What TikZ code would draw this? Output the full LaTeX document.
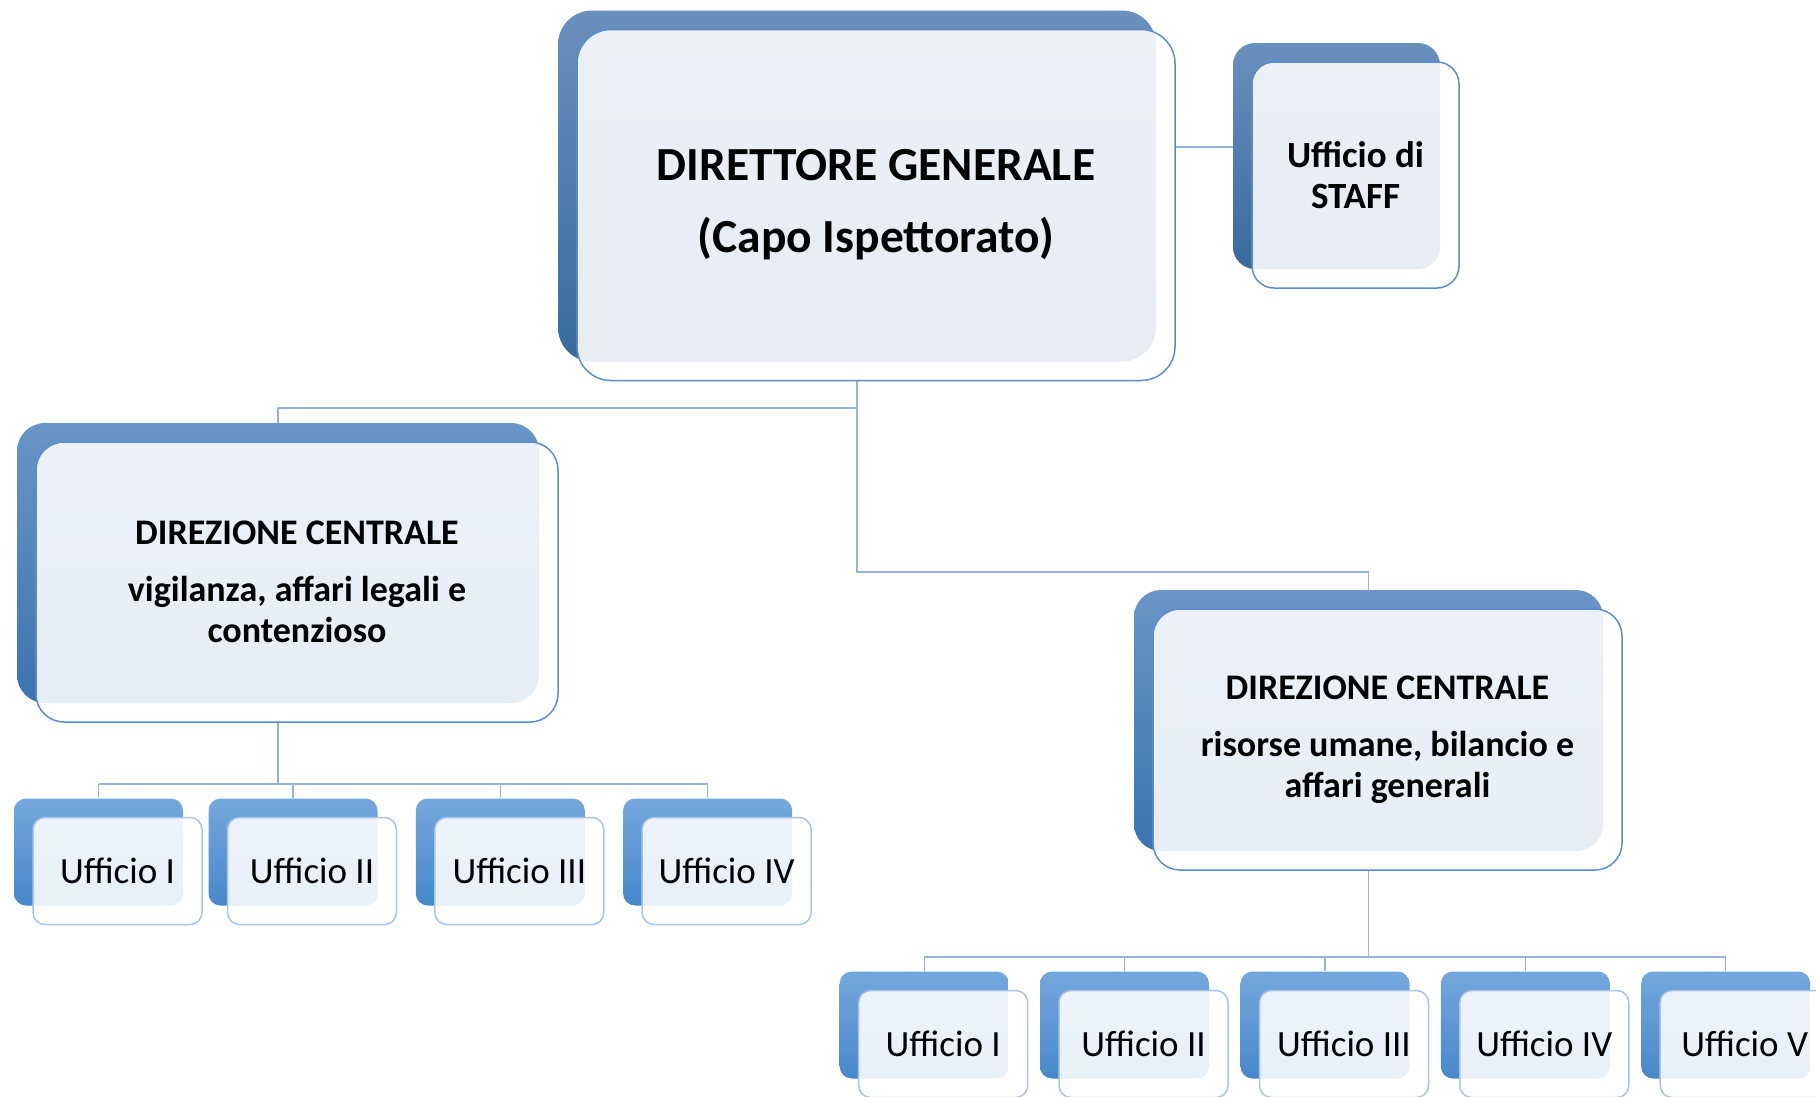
\documentclass[tikz,border=0pt]{standalone}
\usepackage{fontspec}
\setmainfont{Carlito}
\usetikzlibrary{backgrounds}
\definecolor{bigtop}{HTML}{6A90BD}
\definecolor{bigbot}{HTML}{386A9F}
\definecolor{dctop}{HTML}{6A95C6}
\definecolor{dcbot}{HTML}{3B74B1}
\definecolor{smtop}{HTML}{75A7DD}
\definecolor{smbot}{HTML}{4688CA}
\definecolor{bigline}{HTML}{5B8DCB}
\definecolor{smline}{HTML}{A8C4E8}
\definecolor{connc}{HTML}{93B4E0}
\tikzset{
  backbig/.style={rectangle, inner sep=0pt, draw=none, top color=bigtop, bottom color=bigbot},
  frontbig/.style={rectangle, inner sep=0pt, draw=bigline, line width=1.5pt, fill=white, fill opacity=0.88, text opacity=1, align=center},
  backdc/.style={rectangle, inner sep=0pt, draw=none, top color=dctop, bottom color=dcbot},
  frontdc/.style={frontbig},
  backsm/.style={rectangle, inner sep=0pt, draw=none, top color=smtop, bottom color=smbot},
  frontsm/.style={rectangle, inner sep=0pt, draw=smline, line width=1.5pt, fill=white, fill opacity=0.88, text opacity=1, align=center},
  conn/.style={draw=connc, line width=1.4pt},
}
\newcommand\orgbox[9]{%
  \node[back#7, rounded corners=#6pt, minimum width=#4pt, minimum height=#5pt] (#1-b) at (#2,#3) {};
  \node[front#7, rounded corners=#6pt, minimum width=#4pt, minimum height=#5pt, font=#8] (#1) at ({#2+19},{#3+19}) {#9};
}
\newcommand\smallfont{\fontsize{37}{44}\selectfont}
\newcommand\dcfont{\fontsize{36}{41}\selectfont\bfseries}
\begin{document}
\begin{tikzpicture}[x=1pt,y=-1pt]
\useasboundingbox (0,0) rectangle (1816,1096);
\clip (0,0) rectangle (1816,1096);
% main boxes
\orgbox{dg}{857}{186}{598}{351}{34}{big}{\fontsize{47.5}{56}\selectfont\bfseries}{DIRETTORE GENERALE\\[16pt](Capo Ispettorato)}
\orgbox{staff}{1336.5}{156}{207}{226}{22}{big}{\fontsize{37}{41}\selectfont\bfseries}{Ufficio di\\STAFF}
\orgbox{dcl}{278}{563}{522}{280}{28}{dc}{\dcfont}{DIREZIONE CENTRALE\\[16pt]vigilanza, affari legali e\\contenzioso}
\orgbox{dcr}{1368.5}{720.5}{469}{261}{27}{dc}{\dcfont}{DIREZIONE CENTRALE\\[16pt]risorse umane, bilancio e\\affari generali}
% left offices
\orgbox{l1}{98.5}{852}{169}{107}{12}{sm}{\smallfont}{Ufficio I}
\orgbox{l2}{293}{852}{169}{107}{12}{sm}{\smallfont}{Ufficio II}
\orgbox{l3}{500.3}{852}{169}{107}{12}{sm}{\smallfont}{Ufficio III}
\orgbox{l4}{707.6}{852}{169}{107}{12}{sm}{\smallfont}{Ufficio IV}
% right offices
\orgbox{r1}{924.2}{1025}{169}{107}{12}{sm}{\smallfont}{Ufficio I}
\orgbox{r2}{1124.5}{1025}{169}{107}{12}{sm}{\smallfont}{Ufficio II}
\orgbox{r3}{1325}{1025}{169}{107}{12}{sm}{\smallfont}{Ufficio III}
\orgbox{r4}{1525.3}{1025}{169}{107}{12}{sm}{\smallfont}{Ufficio IV}
\orgbox{r5}{1725.7}{1025}{169}{107}{12}{sm}{\smallfont}{Ufficio V}
% connectors
\coordinate (hs) at (0,147);
\coordinate (jL) at (0,408);
\coordinate (jR) at (0,572);
\coordinate (jl2) at (0,784);
\coordinate (jr2) at (0,957);
\begin{pgfonlayer}{background}
\draw[conn] (dg.east |- hs) -- (staff-b.west |- hs);
\draw[conn] (dg-b |- dg.south) -- (dg-b |- jL) -| (dcl-b.north);
\draw[conn] (dg-b |- jL) -- (dg-b |- jR) -| (dcr-b.north);
\draw[conn] (dcl-b |- dcl.south) -- (dcl-b |- jl2);
\draw[conn] (l1-b |- jl2) -- (l4-b |- jl2);
\foreach \n in {l1,l2,l3,l4} {\draw[conn] (\n-b |- jl2) -- (\n-b.north);}
\draw[conn] (dcr-b |- dcr.south) -- (dcr-b |- jr2);
\draw[conn] (r1-b |- jr2) -- (r5-b |- jr2);
\foreach \n in {r1,r2,r3,r4,r5} {\draw[conn] (\n-b |- jr2) -- (\n-b.north);}
\end{pgfonlayer}
\end{tikzpicture}
\end{document}
